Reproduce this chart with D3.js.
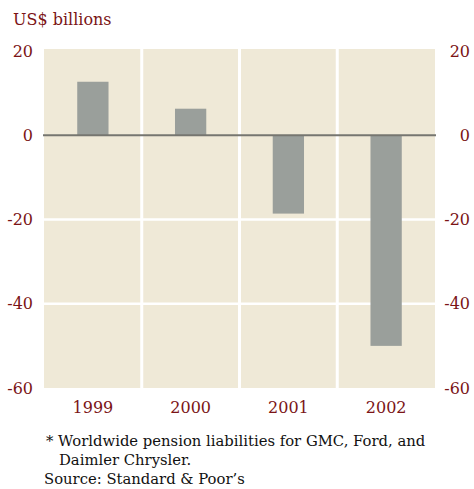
<!DOCTYPE html>
<html>
<head>
<meta charset="utf-8">
<script src="https://cdnjs.cloudflare.com/ajax/libs/d3/7.8.5/d3.min.js"></script>
<style>
  body { margin: 0; background: #fff; }
  svg { display: block; }
</style>
</head>
<body>
<div class="chart"></div>
<script>
const years = ['1999', '2000', '2001', '2002']
const values = [12.7, 6.3, -18.6, -50]
const yTicks = [20, 0, -20, -40, -60]
const footnotes = [
  '* Worldwide pension liabilities for GMC, Ford, and',
  'Daimler Chrysler.',
  'Source: Standard & Poor\u2019s',
]

const W = 474
const H = 489
const plot = { left: 44, right: 435, top: 51, bottom: 388 }
const RED = '#7b1416'
const FONT = 'DejaVu Serif, serif'

const svg = d3.select('.chart')
  .append('svg')
  .attr('width', W)
  .attr('height', H)

const x = d3.scaleBand()
  .domain(years)
  .range([plot.left, plot.right])
  .paddingInner(0)
  .paddingOuter(0)

const y = d3.scaleLinear()
  .domain([-60, 20])
  .range([plot.bottom, plot.top])

// background
svg.append('rect')
  .attr('x', plot.left)
  .attr('y', plot.top - 2)
  .attr('width', plot.right - plot.left)
  .attr('height', plot.bottom - plot.top + 2)
  .attr('fill', '#efe9d7')

// white grid lines
svg.selectAll('.hgrid')
  .data([-20, -40])
  .enter()
  .append('line')
  .attr('x1', plot.left)
  .attr('x2', plot.right)
  .attr('y1', d => y(d))
  .attr('y2', d => y(d))
  .attr('stroke', '#fff')
  .attr('stroke-width', 2.5)

svg.selectAll('.vgrid')
  .data(years.slice(1))
  .enter()
  .append('line')
  .attr('x1', d => x(d))
  .attr('x2', d => x(d))
  .attr('y1', plot.top - 2)
  .attr('y2', plot.bottom)
  .attr('stroke', '#fff')
  .attr('stroke-width', 3)

// bars
const barW = x.bandwidth() * 0.32
svg.selectAll('.bar')
  .data(values)
  .enter()
  .append('rect')
  .attr('x', (d, i) => x(years[i]) + (x.bandwidth() - barW) / 2)
  .attr('y', d => y(Math.max(0, d)))
  .attr('width', barW)
  .attr('height', d => Math.abs(y(d) - y(0)))
  .attr('fill', '#9a9f9b')

// zero line
svg.append('line')
  .attr('x1', plot.left - 1)
  .attr('x2', plot.right + 1)
  .attr('y1', y(0))
  .attr('y2', y(0))
  .attr('stroke', '#767670')
  .attr('stroke-width', 2)

// axes (labels only)
const fmt = d => String(d)
const leftAxis = svg.append('g')
  .attr('transform', `translate(${plot.left - 11},0)`)
  .call(d3.axisLeft(y).tickValues(yTicks).tickFormat(fmt).tickSize(0).tickPadding(0))
const rightAxis = svg.append('g')
  .attr('transform', `translate(${W - 4},0)`)
  .call(d3.axisLeft(y).tickValues(yTicks).tickFormat(fmt).tickSize(0).tickPadding(0))

const xAxis = svg.append('g')
  .attr('transform', `translate(0,${plot.bottom + 11})`)
  .call(d3.axisBottom(x).tickSize(0).tickPadding(0))

;[leftAxis, rightAxis, xAxis].forEach(g => {
  g.select('.domain').remove()
  g.selectAll('text')
    .attr('fill', RED)
    .attr('font-family', FONT)
    .attr('font-size', 16)
})
xAxis.selectAll('text').attr('dy', '0.9em')

// title
svg.append('text')
  .attr('x', 13)
  .attr('y', 25)
  .attr('fill', RED)
  .attr('font-family', FONT)
  .attr('font-size', 16)
  .text('US$ billions')

// footnotes
const fx = [46, 59, 44]
const fy = [446, 465, 484]
svg.selectAll('.note')
  .data(footnotes)
  .enter()
  .append('text')
  .attr('x', (d, i) => fx[i])
  .attr('y', (d, i) => fy[i])
  .attr('fill', '#111')
  .attr('font-family', FONT)
  .attr('font-size', 14.8)
  .text(d => d)
</script>
</body>
</html>
